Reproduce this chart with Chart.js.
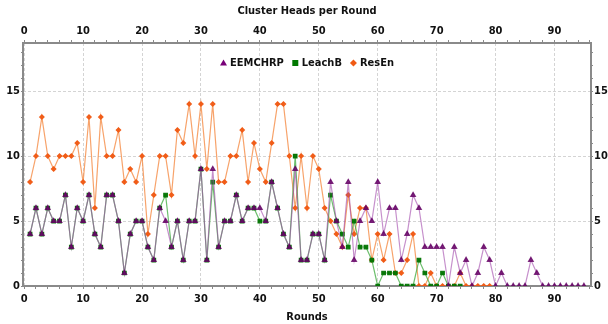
<!DOCTYPE html>
<html>
<head>
<meta charset="utf-8">
<script src="https://cdn.jsdelivr.net/npm/chart.js@4/dist/chart.umd.min.js"></script>
<style>
  html, body { margin: 0; padding: 0; background: #ffffff; }
  #wrap { width: 608px; height: 324px; }
</style>
</head>
<body>
<div id="wrap"><canvas id="grafico" width="608" height="324"></canvas></div>
<script>
// Rondas (eje X)
const rounds = [];
for (let r = 1; r <= 95; r++) rounds.push(r);

const seriesNames = ['EEMCHRP', 'LeachB', 'ResEn'];

const eemchrp = [
    4, 6, 4, 6, 5, 5, 7, 3, 6, 5, 7, 4, 3, 7, 7, 5, 1, 4, 5, 5,
    3, 2, 6, 5, 3, 5, 2, 5, 5, 9, 2, 9, 3, 5, 5, 7, 5, 6, 6, 6,
    5, 8, 6, 4, 3, 9, 2, 2, 4, 4, 2, 8, 5, 3, 8, 2, 5, 6, 5, 8,
    4, 6, 6, 2, 4, 7, 6, 3, 3, 3, 3, 0, 3, 1, 2, 0, 1, 3, 2, 0,
    1, 0, 0, 0, 0, 2, 1, 0, 0, 0, 0, 0, 0, 0, 0
];

const leachB = [
    4, 6, 4, 6, 5, 5, 7, 3, 6, 5, 7, 4, 3, 7, 7, 5, 1, 4, 5, 5,
    3, 2, 6, 7, 3, 5, 2, 5, 5, 9, 2, 8, 3, 5, 5, 7, 5, 6, 6, 5,
    5, 8, 6, 4, 3, 10, 2, 2, 4, 4, 2, 7, 5, 4, 3, 5, 3, 3, 2, 0,
    1, 1, 1, 0, 0, 0, 2, 1, 0, 0, 1, 0, 0, 0
];

const resEn = [
    8, 10, 13, 10, 9, 10, 10, 10, 11, 8, 13, 6, 13, 10, 10, 12, 8, 9, 8, 10,
    4, 7, 10, 10, 7, 12, 11, 14, 10, 14, 9, 14, 8, 8, 10, 10, 12, 8, 11, 9,
    8, 11, 14, 14, 10, 6, 10, 6, 10, 9, 6, 5, 4, 3, 7, 4, 6, 6, 2, 4,
    2, 4, 1, 1, 2, 4, 0, 0, 1, 0, 0, 0, 0, 1, 0, 0, 0, 0, 0
];

const xTickLabels = [0, 10, 20, 30, 40, 50, 60, 70, 80, 90];
const yTickLabels = [0, 5, 10, 15];

const FONT_FAMILY = "'DejaVu Sans Condensed', 'DejaVu Sans', sans-serif";
const fuente = { family: FONT_FAMILY, size: 11, weight: 'bold' };
const GRID = '#d4d4d4';
const FRAME = '#8a8a8a';
const TEXTO = '#111111';

function gridColorX(ctx) {
    return xTickLabels.includes(ctx.tick && ctx.tick.value) ? GRID : 'rgba(0,0,0,0)';
}
function gridColorY(ctx) {
    return yTickLabels.includes(ctx.tick && ctx.tick.value) ? GRID : 'rgba(0,0,0,0)';
}

function ejeX(position, height, title, titlePad, tickPad) {
    return {
        type: 'linear',
        position: position,
        min: -0.2,
        max: 96.2,
        afterFit: (s) => { s.height = height; },
        ticks: {
            stepSize: 2,
            includeBounds: false,
            autoSkip: false,
            maxRotation: 0,
            padding: tickPad,
            color: TEXTO,
            font: fuente,
            callback: (v) => (xTickLabels.includes(v) ? String(v) : '')
        },
        grid: {
            color: gridColorX,
            tickColor: FRAME,
            tickLength: 3,
            lineWidth: 1
        },
        border: { color: FRAME, width: 2, dash: [2, 3] },
        title: {
            display: true,
            text: title,
            color: TEXTO,
            font: fuente,
            padding: titlePad
        }
    };
}

function ejeY(position) {
    return {
        type: 'linear',
        position: position,
        min: 0,
        max: 18.7,
        afterFit: (s) => { s.width = position === 'left' ? 23 : 17; },
        ticks: {
            stepSize: 1,
            includeBounds: false,
            autoSkip: false,
            padding: 1,
            color: TEXTO,
            font: fuente,
            callback: (v) => (yTickLabels.includes(v) ? String(v) : '')
        },
        grid: {
            color: gridColorY,
            tickColor: FRAME,
            tickLength: 2,
            lineWidth: 1
        },
        border: { color: FRAME, width: 2, dash: [2, 3] }
    };
}

// Leyenda horizontal dentro del área del gráfico (arriba, centrada)
function dibujarMarca(c, estilo, x, y, color) {
    c.fillStyle = color;
    c.beginPath();
    if (estilo === 'triangle') {
        c.moveTo(x, y - 3.5);
        c.lineTo(x + 3.5, y + 2.5);
        c.lineTo(x - 3.5, y + 2.5);
    } else if (estilo === 'rect') {
        c.rect(x - 3, y - 3, 6, 6);
    } else {
        c.moveTo(x, y - 3.5);
        c.lineTo(x + 3.5, y);
        c.lineTo(x, y + 3.5);
        c.lineTo(x - 3.5, y);
    }
    c.closePath();
    c.fill();
}

const leyendaPlugin = {
    id: 'leyendaInterna',
    afterDraw(chart) {
        const c = chart.ctx;
        const area = chart.chartArea;
        c.save();
        c.font = 'bold 11px ' + FONT_FAMILY;
        c.textBaseline = 'middle';
        c.textAlign = 'left';
        const marca = 10;
        const separacion = 8;
        const items = chart.data.datasets.map(ds => ({ ds: ds, w: c.measureText(ds.label).width }));
        let total = 0;
        items.forEach((it, i) => { total += marca + it.w + (i > 0 ? separacion : 0); });
        let x = (area.left + area.right) / 2 - total / 2;
        const y = area.top + 20;
        items.forEach(it => {
            dibujarMarca(c, it.ds.pointStyle, x + 3.5, y, it.ds.legendColor);
            c.fillStyle = TEXTO;
            c.fillText(it.ds.label, x + marca, y + 0.5);
            x += marca + it.w + separacion;
        });
        c.restore();
    }
};

const ctx = document.getElementById('grafico').getContext('2d');

new Chart(ctx, {
    type: 'line',
    data: {
        labels: rounds,
        datasets: [
            {
                label: seriesNames[0],
                data: eemchrp,
                order: 0,
                borderColor: 'rgba(160, 70, 170, 0.6)',
                legendColor: 'rgb(120, 0, 120)',
                pointBackgroundColor: 'rgba(100, 0, 100, 0.8)',
                pointBorderColor: 'rgba(100, 0, 100, 0.8)',
                pointStyle: 'triangle',
                pointRadius: 2.7,
                borderWidth: 1.2,
                tension: 0
            },
            {
                label: seriesNames[1],
                data: leachB,
                order: 1,
                borderColor: 'rgba(60, 170, 60, 0.75)',
                legendColor: 'rgb(0, 120, 0)',
                pointBackgroundColor: 'rgba(0, 115, 0, 0.95)',
                pointBorderColor: 'rgba(0, 115, 0, 0.95)',
                pointStyle: 'rect',
                pointRadius: 2.5,
                borderWidth: 1.2,
                tension: 0
            },
            {
                label: seriesNames[2],
                data: resEn,
                order: 2,
                borderColor: 'rgba(245, 140, 70, 0.8)',
                legendColor: 'rgb(240, 90, 20)',
                pointBackgroundColor: 'rgba(240, 90, 20, 0.95)',
                pointBorderColor: 'rgba(240, 90, 20, 0.95)',
                pointStyle: 'rectRot',
                pointRadius: 2.2,
                borderWidth: 1.2,
                tension: 0
            }
        ]
    },
    options: {
        responsive: false,
        animation: false,
        layout: { padding: 0 },
        scales: {
            x: ejeX('bottom', 38, 'Rounds', { top: 0, bottom: 0 }, 4),
            x2: ejeX('top', 43, 'Cluster Heads per Round', { top: 5, bottom: 0 }, 2),
            y: ejeY('left'),
            y2: ejeY('right')
        },
        plugins: {
            legend: { display: false },
            tooltip: { enabled: false }
        }
    },
    plugins: [leyendaPlugin]
});
</script>
</body>
</html>
